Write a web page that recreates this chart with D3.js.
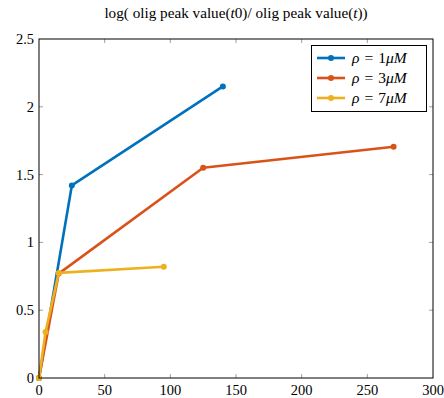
<!DOCTYPE html>
<html><head><meta charset="utf-8">
<script src="https://cdn.jsdelivr.net/npm/d3@7"></script>
<style>body{margin:0;background:#fff}svg{display:block}text{font-family:"Liberation Serif","DejaVu Serif",serif}</style>
</head><body><svg id="c" width="444" height="398"></svg>
<script>
const seriesNames = ["1", "3", "7"];
const seriesColors = ["#0072BD", "#D95319", "#EDB120"];
const xBlue = [0, 25, 140];
const yBlue = [0, 1.42, 2.15];
const xRed = [0, 15, 125, 270];
const yRed = [0, 0.77, 1.55, 1.705];
const xYellow = [0, 5, 15, 95];
const yYellow = [0, 0.34, 0.775, 0.82];
const xTicks = [0, 50, 100, 150, 200, 250, 300];
const yTicks = [0, 0.5, 1, 1.5, 2, 2.5];

const series = [
  xBlue.map((x,i)=>[x,yBlue[i]]),
  xRed.map((x,i)=>[x,yRed[i]]),
  xYellow.map((x,i)=>[x,yYellow[i]])
];

const L=39, R=433, T=39, B=378;
const x = d3.scaleLinear().domain([0,300]).range([L,R]);
const y = d3.scaleLinear().domain([0,2.5]).range([B,T]);
const svg = d3.select("#c");

const tk = svg.append("g").attr("stroke","#888").attr("stroke-width",0.8);
xTicks.slice(1,-1).forEach(v=>{
  tk.append("line").attr("x1",x(v)).attr("x2",x(v)).attr("y1",B).attr("y2",B-4);
  tk.append("line").attr("x1",x(v)).attr("x2",x(v)).attr("y1",T).attr("y2",T+4);
});
yTicks.slice(1,-1).forEach(v=>{
  tk.append("line").attr("y1",y(v)).attr("y2",y(v)).attr("x1",L).attr("x2",L+4);
  tk.append("line").attr("y1",y(v)).attr("y2",y(v)).attr("x1",R).attr("x2",R-4);
});

const line = d3.line().x(d=>x(d[0])).y(d=>y(d[1]));
series.forEach((s,i)=>{
  svg.append("path").datum(s).attr("d",line).attr("fill","none")
    .attr("stroke",seriesColors[i]).attr("stroke-width",2.6).attr("stroke-linejoin","round");
  svg.selectAll(null).data(s).enter().append("circle")
    .attr("cx",d=>x(d[0])).attr("cy",d=>y(d[1])).attr("r",3).attr("fill",seriesColors[i]);
});

svg.append("rect").attr("x",L).attr("y",T).attr("width",R-L).attr("height",B-T)
  .attr("fill","none").attr("stroke","#000").attr("stroke-width",1);

svg.append("g").selectAll("text").data(xTicks).enter().append("text")
  .attr("x",d=>x(d)).attr("y",B+17).attr("text-anchor","middle").attr("font-size",14.5).text(d=>d);
svg.append("g").selectAll("text").data(yTicks).enter().append("text")
  .attr("x",L-5).attr("y",d=>y(d)+5).attr("text-anchor","end").attr("font-size",14.5).text(d=>d);

const title = svg.append("text").attr("x",(L+R)/2).attr("y",18).attr("text-anchor","middle").attr("font-size",15.2);
title.append("tspan").text("log( olig peak value(");
title.append("tspan").attr("font-style","italic").text("t");
title.append("tspan").text("0)/ olig peak value(");
title.append("tspan").attr("font-style","italic").text("t");
title.append("tspan").text("))");

const lg = svg.append("g");
lg.append("rect").attr("x",311.5).attr("y",45.5).attr("width",115).attr("height",66)
  .attr("fill","#fff").attr("stroke","#000").attr("stroke-width",1);
seriesNames.forEach((n,i)=>{
  const yy = 58 + i*20;
  lg.append("line").attr("x1",317).attr("x2",345).attr("y1",yy).attr("y2",yy)
    .attr("stroke",seriesColors[i]).attr("stroke-width",2.6);
  lg.append("circle").attr("cx",331).attr("cy",yy).attr("r",3).attr("fill",seriesColors[i]);
  const t = lg.append("text").attr("x",352).attr("y",yy+5).attr("font-size",15.5);
  t.append("tspan").attr("font-style","italic").text("ρ");
  t.append("tspan").attr("dx",5).text("=");
  t.append("tspan").attr("dx",5).text(n);
  t.append("tspan").attr("font-style","italic").text("μM");
});
</script></body></html>
